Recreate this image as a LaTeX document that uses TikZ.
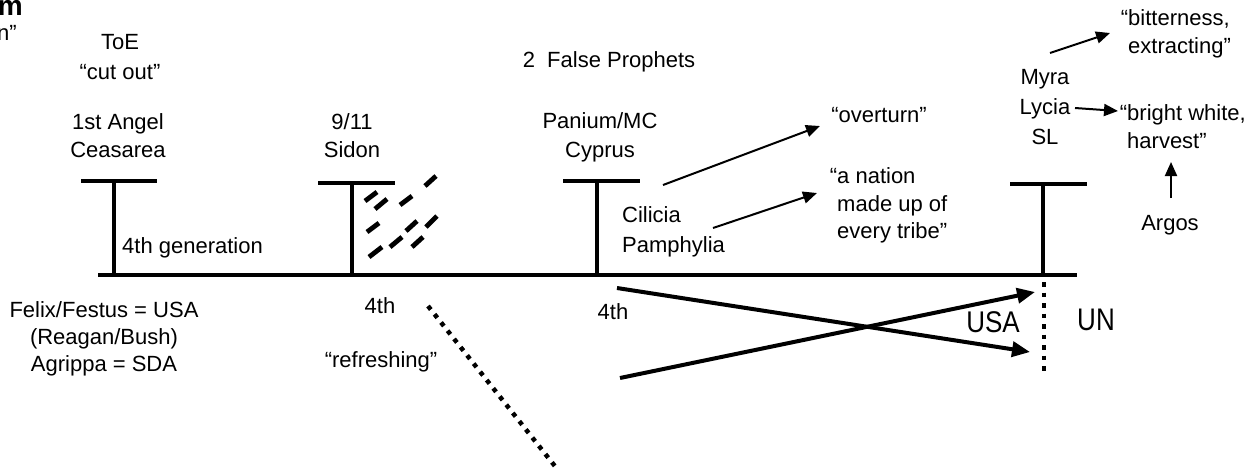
\documentclass[tikz,border=0pt]{standalone}
\usepackage{fontspec}
\setmainfont{Liberation Sans}
\usetikzlibrary{arrows.meta}

\begin{document}
\begin{tikzpicture}[x=1pt,y=-1pt,
	txt/.style={inner sep=0pt,align=center,font=\fontsize{22}{27}\selectfont},
	big/.style={inner sep=0pt,font=\fontsize{26}{32}\selectfont},
	bar/.style={line width=4.8pt},
	rain/.style={line width=4.8pt},
	dots/.style={line width=4.5pt,dash pattern=on 4.5pt off 6pt},
	thinarrow/.style={line width=2pt,-{Triangle[length=14pt,width=12pt]}},
	thickarrow/.style={line width=4pt,-{Triangle[length=18pt,width=15pt]}}]

	\useasboundingbox (0,0) rectangle (1249,467);

	% time line
	\draw[bar] (98,275) -- (1077,275);

	\draw[bar] (81,181) -- (157,181);
	\draw[bar] (114,183) -- (114,275);
	\draw[bar] (318,183) -- (395,183);
	\draw[bar] (352,185) -- (352,275);
	\draw[bar] (563,181) -- (640,181);
	\draw[bar] (597,183) -- (597,275);
	\draw[bar] (1010,184) -- (1087,184);
	\draw[bar] (1043,186) -- (1043,275);

	% falling towers
	\draw[rain] (365,201) -- (377,192);
	\draw[rain] (375,209) -- (387,199);
	\draw[rain] (400,205) -- (412,196);
	\draw[rain] (425,186) -- (436,176);
	\draw[rain] (367,232) -- (379,223);
	\draw[rain] (406,231) -- (417,221);
	\draw[rain] (426,227) -- (437,216);
	\draw[rain] (369,257) -- (382,247);
	\draw[rain] (390,247) -- (402,237);
	\draw[rain] (412,247) -- (423,237);

	% cut off title
	\node[inner sep=0pt,anchor=base east,font=\fontsize{28}{32}\selectfont\bfseries] (title) at (23,15) {m};
	\node[txt,anchor=base east] (titleb) at (17,40) {n”};

	\node[txt,anchor=north] (toe) at (120,34) {ToE\\[3pt]“cut out”};
	\node[txt,anchor=north] (angel) at (118,113) {1st Angel\\[1pt]Ceasarea};
	\node[txt,anchor=north] (sidon) at (352,113) {9/11\\[1pt]Sidon};
	\node[txt,anchor=north] (cyprus) at (600,112) {Panium/MC\\[2pt]Cyprus};
	\node[txt,anchor=base] (prophets) at (609,67) {2~~False Prophets};
	\node[txt,anchor=base west] (gen) at (122,253) {4th generation};
	\node[txt,anchor=north] (felix) at (104,301) {Felix/Festus = USA\\(Reagan/Bush)\\Agrippa = SDA};
	\node[txt,anchor=base] (fourtha) at (380,313) {4th};
	\node[txt,anchor=base] (refresh) at (381,367) {“refreshing”};
	\node[txt,anchor=base] (fourthb) at (613,319) {4th};
	\node[txt,anchor=north west,align=left] (cilicia) at (622,206) {Cilicia\\[3pt]Pamphylia};
	\node[txt,anchor=base] (overturn) at (879,122) {“overturn”};
	\node[txt,anchor=north west,align=left] (nation) at (837,167) {\llap{“}a nation\\[1pt]made up of\\every tribe”};
	\node[txt,anchor=north] (myra) at (1045,69) {Myra\\[3pt]Lycia\\[3pt]SL};
	\node[txt,anchor=north west,align=left] (bitter) at (1128,9) {\llap{“}bitterness,\\[1pt]extracting”};
	\node[txt,anchor=north west,align=left] (bright) at (1127,104) {\llap{“}bright white,\\[1pt]harvest”};
	\node[txt,anchor=base] (argos) at (1170,230) {Argos};
	\node[big,anchor=base] (usa) at (993,332) {\scalebox{1}[1.15]{USA}};
	\node[big,anchor=base] (un) at (1096,330) {\scalebox{1}[1.2]{UN}};

	\coordinate (cilfrom) at (663,185);
	\coordinate (overto) at (820,126);
	\coordinate (pamfrom) at (713,228);
	\coordinate (nationto) at (817,193);
	\coordinate (myrafrom) at (1050,53);
	\coordinate (bitterto) at (1110,33);
	\coordinate (lyciafrom) at (1075,108);
	\coordinate (brightto) at (1118,111);
	\coordinate (argosfrom) at (1171,198);
	\coordinate (harvestto) at (1171,162);

	\draw[thinarrow] (cilfrom) -- (overto);
	\draw[thinarrow] (pamfrom) -- (nationto);
	\draw[thinarrow] (myrafrom) -- (bitterto);
	\draw[thinarrow] (lyciafrom) -- (brightto);
	\draw[thinarrow] (argosfrom) -- (harvestto);

	% crossing
	\coordinate (xa) at (617,288);
	\coordinate (xb) at (1030,352);
	\coordinate (xc) at (620,378);
	\coordinate (xd) at (1035,292);
	\draw[thickarrow] (xa) -- (xb);
	\draw[thickarrow] (xc) -- (xd);

	\coordinate (unfrom) at (1044,282);
	\coordinate (unto) at (1044,372);
	\draw[dots] (unfrom) -- (unto);
	\coordinate (refrom) at (428,306);
	\coordinate (reto) at (558,470);
	\draw[dots] (refrom) -- (reto);

\end{tikzpicture}
\end{document}
